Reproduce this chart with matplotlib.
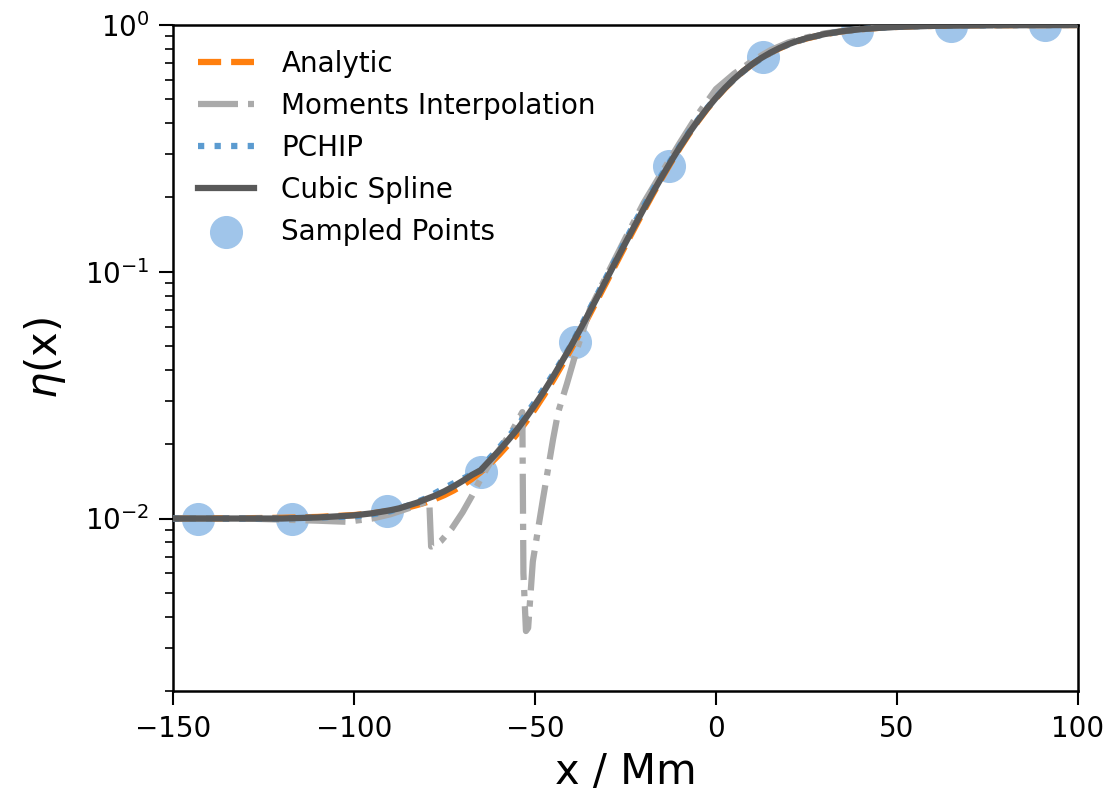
import numpy as np
import matplotlib.pyplot as plt

# sampled nodes
x_samp = [-143, -117, -91, -65, -39, -13, 13, 39, 65, 91]
eta_samp = [0.0100, 0.0100, 0.0107, 0.0154, 0.0519, 0.2685, 0.742, 0.958, 0.994, 0.999]

# smooth curves
x_line = [-150, -140, -130, -120, -110, -100, -95, -90, -87.5, -85, -82.5, -80, -77.5,
          -75, -72.5, -70, -67.5, -65, -62.5, -60, -57.5, -55, -52.5, -50, -47.5,
          -45, -42.5, -40, -37.5, -35, -32.5, -30, -27.5, -25, -22.5, -20, -17.5,
          -15, -12.5, -10, -7.5, -5, -2.5, 0, 2.5, 5, 7.5, 10, 12.5, 15, 17.5, 20,
          22.5, 25, 30, 35, 40, 45, 50, 55, 60, 70, 80, 90, 100]
eta_analytic = [0.01001, 0.01001, 0.01003, 0.01007, 0.01015, 0.01033, 0.01050, 0.01074,
                0.01090, 0.01110, 0.01135, 0.01164, 0.01201, 0.01245, 0.01299, 0.01365,
                0.01445, 0.01543, 0.01663, 0.01808, 0.01985, 0.02201, 0.02463, 0.02781,
                0.03166, 0.03633, 0.04198, 0.04878, 0.05694, 0.06677, 0.07847, 0.09236,
                0.1088, 0.1280, 0.1504, 0.1763, 0.2058, 0.2392, 0.2763, 0.3169, 0.3608,
                0.4073, 0.4557, 0.5050, 0.5543, 0.6027, 0.6492, 0.6931, 0.7337, 0.7708,
                0.8042, 0.8337, 0.8596, 0.8820, 0.9177, 0.9433, 0.9612, 0.9737, 0.9822,
                0.9880, 0.9919, 0.9963, 0.9984, 0.9993, 0.9997]
eta_pchip = [0.0100, 0.0100, 0.0100, 0.0100, 0.0101, 0.0102, 0.0104, 0.0107,
             0.0110, 0.0113, 0.0117, 0.0121, 0.0127, 0.0133, 0.0139, 0.0145,
             0.0151, 0.0156, 0.0176, 0.0193, 0.0213, 0.0236, 0.0264, 0.0297,
             0.0337, 0.0384, 0.0440, 0.0505, 0.0595, 0.0700, 0.0825, 0.0970,
             0.1140, 0.1340, 0.1575, 0.1840, 0.2140, 0.2470, 0.2830, 0.3230, 0.3670,
             0.4130, 0.4600, 0.5080, 0.5560, 0.6030, 0.6480, 0.6910, 0.7320, 0.7700,
             0.8040, 0.8340, 0.8600, 0.8820, 0.9180, 0.9430, 0.9615, 0.9740, 0.9825,
             0.9882, 0.9920, 0.9963, 0.9984, 0.9993, 0.9997]
eta_spline = [0.0100, 0.0100, 0.0100, 0.0100, 0.0101, 0.0103, 0.0105, 0.0108,
              0.0110, 0.0113, 0.0116, 0.0120, 0.0124, 0.0129, 0.0135, 0.0142,
              0.0150, 0.0157, 0.0172, 0.0188, 0.0207, 0.0229, 0.0256, 0.0289,
              0.0328, 0.0376, 0.0434, 0.0502, 0.0585, 0.0685, 0.0805, 0.0948,
              0.1115, 0.1310, 0.1535, 0.1795, 0.2090, 0.2420, 0.2790, 0.3200, 0.3640,
              0.4100, 0.4580, 0.5070, 0.5560, 0.6040, 0.6500, 0.6940, 0.7350, 0.7720,
              0.8060, 0.8360, 0.8620, 0.8840, 0.9190, 0.9440, 0.9620, 0.9740, 0.9825,
              0.9882, 0.9920, 0.9963, 0.9984, 0.9993, 0.9997]

x_mom = [-150, -140, -130, -120, -110, -102, -95, -90, -85, -80, -79.2, -78.7, -77.5,
         -76, -73, -70, -67.5, -65, -62, -59, -56, -53.5, -53.2, -52.5, -51.9, -50.6,
         -47.8, -45.0, -43.6, -41.2, -38.4, -34.8, -30, -25, -20, -15, -10, -5, 0,
         5, 10, 15, 20, 25, 30, 40, 50, 60, 70, 80, 90, 100]
eta_mom = [0.0100, 0.0100, 0.0100, 0.0099, 0.0098, 0.0097, 0.0100, 0.0104, 0.0110,
           0.0117, 0.0117, 0.0077, 0.0078, 0.0081, 0.0091, 0.0106, 0.0123, 0.0145,
           0.0172, 0.0198, 0.0231, 0.0270, 0.0060, 0.0035, 0.0036, 0.0067, 0.0120,
           0.0210, 0.0270, 0.0351, 0.0486, 0.0706, 0.0980, 0.1370, 0.1900, 0.2520,
           0.3330, 0.4350, 0.550, 0.6350, 0.7150, 0.7900, 0.8500, 0.8900, 0.9250,
           0.9650, 0.9850, 0.9930, 0.9970, 0.9990, 1.0000, 1.0000]

plt.rcParams['font.family'] = 'DejaVu Sans'

fig = plt.figure(figsize=(11.12, 8.02), dpi=100)
ax = fig.add_axes([0.1556, 0.1384, 0.8138, 0.8304])

pts = ax.scatter(x_samp, eta_samp, s=520, color='#a0c5ea', zorder=1, label='Sampled Points')
l1, = ax.plot(x_line, eta_analytic, '--', color='#ff7f0e', lw=4.5, zorder=2, label='Analytic')
l2, = ax.plot(x_mom, eta_mom, '-.', color='#aaaaaa', lw=4.5, zorder=3, label='Moments Interpolation')
l3, = ax.plot(x_line, eta_pchip, ':', color='#5b9bd0', lw=4.5, zorder=4, label='PCHIP')
l4, = ax.plot(x_line, eta_spline, '-', color='#595959', lw=4.5, zorder=5, label='Cubic Spline')

ax.set_yscale('log')
ax.set_xlim(-150, 100)
ax.set_ylim(2e-3, 1)
ax.set_xlabel('x / Mm', fontsize=30, labelpad=6)
ax.set_ylabel(r'$\eta$(x)', fontsize=30, labelpad=12)
ax.tick_params(which='major', labelsize=20, length=10, width=1.5, pad=7)
ax.tick_params(which='minor', length=5.5, width=1.2)
for s in ax.spines.values():
    s.set_linewidth(1.8)

ax.legend(handles=[l1, l2, l3, l4, pts], loc='upper left', frameon=False, fontsize=20,
          handlelength=2.0, handletextpad=1.0, labelspacing=0.5)

fig.savefig('out.png', dpi=100)
